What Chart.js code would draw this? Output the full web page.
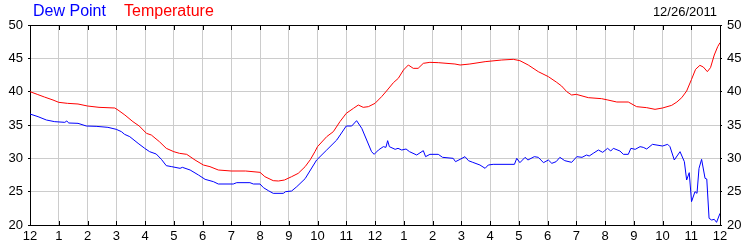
<!DOCTYPE html>
<html>
<head>
<meta charset="utf-8">
<script src="https://cdn.jsdelivr.net/npm/chart.js@4.4.1/dist/chart.umd.min.js"></script>
<style>
  body { margin: 0; background: #fff; }
  #wrap { position: relative; width: 750px; height: 250px; font-family: "Liberation Sans", Arial, sans-serif; }
  #wrap canvas { position: absolute; left: 0; top: 0; }
  .lbl { position: absolute; white-space: nowrap; line-height: 18px; }
</style>
</head>
<body>
<div id="wrap">
  <canvas id="chart1" width="750" height="250"></canvas>
  <span class="lbl" style="left:33px; top:2px; font-size:16px; color:#0000ff;">Dew Point</span>
  <span class="lbl" style="left:124px; top:2px; font-size:16px; color:#ff0000;">Temperature</span>
  <span class="lbl" style="right:33px; top:3px; font-size:13px; color:#000;">12/26/2011</span>
</div>
<script>
// hour labels under the x axis (midnight to midnight)
const hourLabels = ['12','1','2','3','4','5','6','7','8','9','10','11','12','1','2','3','4','5','6','7','8','9','10','11','12'];

// temperature readings, hours since midnight
const tempHours = [0,0.25,0.5,0.8,1.0,1.3,1.67,2.0,2.4,2.95,3.06,3.3,3.58,3.8,4.05,4.22,4.5,4.74,5.0,5.2,5.45,5.74,6.03,6.26,6.55,7.0,7.5,8.0,8.17,8.46,8.64,8.85,9.1,9.33,9.57,9.75,9.91,10.0,10.32,10.55,10.78,11.0,11.25,11.42,11.59,11.77,12.0,12.23,12.4,12.64,12.81,12.99,13.16,13.33,13.5,13.68,13.91,14.2,14.78,14.96,15.3,15.83,16.41,16.81,17.04,17.33,17.68,18.03,18.32,18.49,18.67,18.84,19.0,19.42,19.88,20.1,20.41,20.81,21.1,21.45,21.74,22.0,22.32,22.5,22.67,22.84,23.01,23.15,23.3,23.42,23.56,23.67,23.8,23.92,24.0];
const tempValues = [40.0,39.6,39.2,38.75,38.4,38.25,38.15,37.85,37.65,37.55,37.25,36.5,35.5,34.85,33.75,33.5,32.5,31.5,31.0,30.75,30.6,29.75,29.0,28.75,28.25,28.1,28.1,27.9,27.25,26.65,26.6,26.75,27.25,27.75,28.75,29.8,31.0,31.75,33.25,34.0,35.5,36.75,37.5,38.0,37.65,37.75,38.25,39.25,40.1,41.35,42.0,43.25,44.0,43.5,43.5,44.25,44.4,44.35,44.15,44.0,44.15,44.5,44.75,44.85,44.65,44.0,43.0,42.25,41.4,40.85,40.0,39.5,39.6,39.1,38.95,38.75,38.45,38.45,37.75,37.6,37.35,37.55,37.95,38.45,39.1,40.1,41.85,43.35,43.95,43.7,43.0,43.6,45.5,46.75,47.35];

// dew point readings
const dewHours = [0,0.28,0.57,0.86,1.21,1.28,1.35,1.67,1.96,2.3,2.71,3.0,3.18,3.29,3.47,3.76,3.99,4.16,4.39,4.57,4.74,4.93,5.22,5.3,5.57,5.86,6.09,6.38,6.55,7.07,7.19,7.65,7.77,8.0,8.12,8.29,8.46,8.81,8.89,9.1,9.28,9.57,9.97,10.32,10.67,11.0,11.19,11.36,11.54,11.71,11.88,11.97,12.12,12.29,12.38,12.44,12.5,12.7,12.8,12.93,13.08,13.2,13.45,13.68,13.76,13.91,14.2,14.35,14.72,14.8,14.96,15.13,15.25,15.4,15.65,15.83,15.94,16.11,16.85,16.93,17.04,17.22,17.32,17.54,17.68,17.86,18.03,18.15,18.3,18.43,18.6,18.84,19.02,19.2,19.36,19.45,19.59,19.77,19.92,20.09,20.2,20.29,20.52,20.64,20.81,20.9,21.05,21.22,21.33,21.45,21.65,22.0,22.18,22.26,22.41,22.61,22.76,22.84,22.93,23.01,23.13,23.2,23.27,23.36,23.48,23.54,23.62,23.71,23.8,23.88,24.0];
const dewValues = [36.65,36.25,35.75,35.5,35.4,35.6,35.3,35.25,34.85,34.8,34.65,34.35,34.0,33.6,33.25,32.25,31.5,31.0,30.65,29.85,28.9,28.75,28.5,28.65,28.25,27.5,26.85,26.5,26.15,26.15,26.35,26.35,26.15,26.15,25.6,25.15,24.75,24.75,25.0,25.1,25.75,26.95,29.75,31.25,32.75,34.85,34.85,35.65,34.5,32.75,31.0,30.6,31.25,31.75,31.65,32.65,31.75,31.35,31.5,31.25,31.4,31.0,30.5,31.15,30.25,30.6,30.6,30.15,30.0,29.5,29.85,30.25,29.65,29.4,29.0,28.5,29.0,29.1,29.1,30.0,29.35,30.15,29.75,30.25,30.15,29.35,29.75,29.25,29.5,30.15,29.65,29.4,30.25,30.15,30.5,30.35,30.75,31.25,30.9,31.5,31.1,31.5,31.1,30.6,30.6,31.5,31.35,31.75,31.65,31.4,32.1,31.85,32.1,31.75,29.75,31.0,29.5,26.75,27.85,23.5,25.0,24.75,28.5,29.85,27.0,26.9,21.0,20.75,20.85,20.4,21.75];

const FONT = '"Liberation Sans", Arial, sans-serif';

function toPoints(xs, ys) {
    return xs.map(function(h, i) { return { x: h, y: ys[i] }; });
}

// short black tick marks inside the plot, top and bottom, plus the top border
const innerTicks = {
    id: 'innerTicks',
    afterDraw: function(chart) {
        const ctx = chart.ctx;
        const area = chart.chartArea;
        const xs = chart.scales.x;
        ctx.save();
        ctx.strokeStyle = '#000';
        ctx.lineWidth = 1;
        ctx.beginPath();
        xs.ticks.forEach(function(t) {
            const px = Math.round(xs.getPixelForValue(t.value)) + 0.5;
            ctx.moveTo(px, area.top);
            ctx.lineTo(px, area.top + 5);
            ctx.moveTo(px, area.bottom);
            ctx.lineTo(px, area.bottom - 4);
        });
        ctx.moveTo(area.left, area.top + 0.5);
        ctx.lineTo(area.right + 1, area.top + 0.5);
        ctx.stroke();
        ctx.restore();
    }
};

const yTicks = {
    stepSize: 5,
    padding: 5,
    color: '#000',
    font: { family: FONT, size: 13 }
};

var ctx = document.getElementById('chart1').getContext('2d');
var myChart = new Chart(ctx, {
    type: 'line',
    data: {
        datasets: [
            {
                label: 'Temperature',
                data: toPoints(tempHours, tempValues),
                borderColor: '#ff0000',
                borderWidth: 1,
                pointRadius: 0,
                tension: 0
            },
            {
                label: 'Dew Point',
                data: toPoints(dewHours, dewValues),
                borderColor: '#0000ff',
                borderWidth: 1,
                pointRadius: 0,
                tension: 0
            }
        ]
    },
    options: {
        responsive: false,
        animation: false,
        layout: { padding: { top: 25, left: 0, right: 0, bottom: 0 } },
        plugins: {
            legend: { display: false },
            title: { display: false },
            tooltip: { enabled: false }
        },
        scales: {
            x: {
                type: 'linear',
                min: 0,
                max: 24,
                ticks: {
                    stepSize: 1,
                    autoSkip: false,
                    maxRotation: 0,
                    padding: 4,
                    color: '#000',
                    font: { family: FONT, size: 13 },
                    callback: function(v) { return hourLabels[v]; }
                },
                grid: { color: '#cccccc', drawTicks: false },
                border: { color: '#000' },
                afterFit: function(s) { s.height = 25; }
            },
            y: {
                position: 'left',
                min: 20,
                max: 50,
                ticks: yTicks,
                grid: { color: '#cccccc', tickColor: '#000', tickLength: 2 },
                border: { color: '#000' },
                afterFit: function(s) { s.width = 30; }
            },
            y2: {
                position: 'right',
                min: 20,
                max: 50,
                ticks: yTicks,
                grid: { drawOnChartArea: false, tickColor: '#000', tickLength: 2 },
                border: { color: '#000' },
                afterFit: function(s) { s.width = 30; }
            }
        }
    },
    plugins: [innerTicks]
});
</script>
</body>
</html>
